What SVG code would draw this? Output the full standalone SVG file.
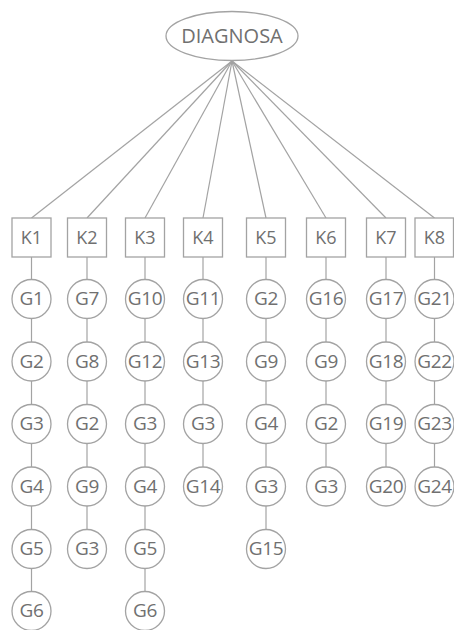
<svg xmlns="http://www.w3.org/2000/svg" width="454" height="630" viewBox="0 0 454 630">
<style>
.n{fill:#fff;stroke:#a3a3a3;stroke-width:1.3}
.t{font-family:"Open Sans","Noto Sans",sans-serif;fill:#707070;text-anchor:middle;dominant-baseline:central}
.g{font-size:19px;letter-spacing:-0.3px}
.k{font-size:18px}
.c line{stroke:#a3a3a3;stroke-width:1.2}
</style>
<rect width="454" height="630" fill="#fff"/>
<g id="connectors" class="c">
<line x1="232" y1="61" x2="31.5" y2="218"/>
<line x1="232" y1="61" x2="87" y2="218"/>
<line x1="232" y1="61" x2="145" y2="218"/>
<line x1="232" y1="61" x2="203" y2="218"/>
<line x1="232" y1="61" x2="266" y2="218"/>
<line x1="232" y1="61" x2="326" y2="218"/>
<line x1="232" y1="61" x2="386" y2="218"/>
<line x1="232" y1="61" x2="434.5" y2="218"/>
<line x1="31.5" y1="257" x2="31.5" y2="592"/>
<line x1="87" y1="257" x2="87" y2="530"/>
<line x1="145" y1="257" x2="145" y2="592"/>
<line x1="203" y1="257" x2="203" y2="467"/>
<line x1="266" y1="257" x2="266" y2="530"/>
<line x1="326" y1="257" x2="326" y2="467"/>
<line x1="386" y1="257" x2="386" y2="467"/>
<line x1="434.5" y1="257" x2="434.5" y2="467"/>
</g>
<g id="DIAGNOSA"><ellipse class="n" cx="232" cy="36" rx="66" ry="24.5"/><text class="t" x="232" y="35" font-size="20">DIAGNOSA</text></g>
<g id="K1"><rect class="n" x="12" y="218" width="39" height="39"/><text class="t k" x="31.5" y="237">K1</text></g>
<g id="K2"><rect class="n" x="67.5" y="218" width="39" height="39"/><text class="t k" x="87" y="237">K2</text></g>
<g id="K3"><rect class="n" x="125.5" y="218" width="39" height="39"/><text class="t k" x="145" y="237">K3</text></g>
<g id="K4"><rect class="n" x="183.5" y="218" width="39" height="39"/><text class="t k" x="203" y="237">K4</text></g>
<g id="K5"><rect class="n" x="246.5" y="218" width="39" height="39"/><text class="t k" x="266" y="237">K5</text></g>
<g id="K6"><rect class="n" x="306.5" y="218" width="39" height="39"/><text class="t k" x="326" y="237">K6</text></g>
<g id="K7"><rect class="n" x="366.5" y="218" width="39" height="39"/><text class="t k" x="386" y="237">K7</text></g>
<g id="K8"><rect class="n" x="415" y="218" width="38.5" height="39"/><text class="t k" x="434.5" y="237">K8</text></g>
<g id="K1-G1"><circle class="n" cx="31.5" cy="299" r="19.5"/><text class="t g" x="31.5" y="298">G1</text></g>
<g id="K1-G2"><circle class="n" cx="31.5" cy="361.5" r="19.5"/><text class="t g" x="31.5" y="360.5">G2</text></g>
<g id="K1-G3"><circle class="n" cx="31.5" cy="424" r="19.5"/><text class="t g" x="31.5" y="423">G3</text></g>
<g id="K1-G4"><circle class="n" cx="31.5" cy="486.5" r="19.5"/><text class="t g" x="31.5" y="485.5">G4</text></g>
<g id="K1-G5"><circle class="n" cx="31.5" cy="549" r="19.5"/><text class="t g" x="31.5" y="548">G5</text></g>
<g id="K1-G6"><circle class="n" cx="31.5" cy="611" r="19.5"/><text class="t g" x="31.5" y="610">G6</text></g>
<g id="K2-G7"><circle class="n" cx="87" cy="299" r="19.5"/><text class="t g" x="87" y="298">G7</text></g>
<g id="K2-G8"><circle class="n" cx="87" cy="361.5" r="19.5"/><text class="t g" x="87" y="360.5">G8</text></g>
<g id="K2-G2"><circle class="n" cx="87" cy="424" r="19.5"/><text class="t g" x="87" y="423">G2</text></g>
<g id="K2-G9"><circle class="n" cx="87" cy="486.5" r="19.5"/><text class="t g" x="87" y="485.5">G9</text></g>
<g id="K2-G3"><circle class="n" cx="87" cy="549" r="19.5"/><text class="t g" x="87" y="548">G3</text></g>
<g id="K3-G10"><circle class="n" cx="145" cy="299" r="19.5"/><text class="t g" x="145" y="298">G10</text></g>
<g id="K3-G12"><circle class="n" cx="145" cy="361.5" r="19.5"/><text class="t g" x="145" y="360.5">G12</text></g>
<g id="K3-G3"><circle class="n" cx="145" cy="424" r="19.5"/><text class="t g" x="145" y="423">G3</text></g>
<g id="K3-G4"><circle class="n" cx="145" cy="486.5" r="19.5"/><text class="t g" x="145" y="485.5">G4</text></g>
<g id="K3-G5"><circle class="n" cx="145" cy="549" r="19.5"/><text class="t g" x="145" y="548">G5</text></g>
<g id="K3-G6"><circle class="n" cx="145" cy="611" r="19.5"/><text class="t g" x="145" y="610">G6</text></g>
<g id="K4-G11"><circle class="n" cx="203" cy="299" r="19.5"/><text class="t g" x="203" y="298">G11</text></g>
<g id="K4-G13"><circle class="n" cx="203" cy="361.5" r="19.5"/><text class="t g" x="203" y="360.5">G13</text></g>
<g id="K4-G3"><circle class="n" cx="203" cy="424" r="19.5"/><text class="t g" x="203" y="423">G3</text></g>
<g id="K4-G14"><circle class="n" cx="203" cy="486.5" r="19.5"/><text class="t g" x="203" y="485.5">G14</text></g>
<g id="K5-G2"><circle class="n" cx="266" cy="299" r="19.5"/><text class="t g" x="266" y="298">G2</text></g>
<g id="K5-G9"><circle class="n" cx="266" cy="361.5" r="19.5"/><text class="t g" x="266" y="360.5">G9</text></g>
<g id="K5-G4"><circle class="n" cx="266" cy="424" r="19.5"/><text class="t g" x="266" y="423">G4</text></g>
<g id="K5-G3"><circle class="n" cx="266" cy="486.5" r="19.5"/><text class="t g" x="266" y="485.5">G3</text></g>
<g id="K5-G15"><circle class="n" cx="266" cy="549" r="19.5"/><text class="t g" x="266" y="548">G15</text></g>
<g id="K6-G16"><circle class="n" cx="326" cy="299" r="19.5"/><text class="t g" x="326" y="298">G16</text></g>
<g id="K6-G9"><circle class="n" cx="326" cy="361.5" r="19.5"/><text class="t g" x="326" y="360.5">G9</text></g>
<g id="K6-G2"><circle class="n" cx="326" cy="424" r="19.5"/><text class="t g" x="326" y="423">G2</text></g>
<g id="K6-G3"><circle class="n" cx="326" cy="486.5" r="19.5"/><text class="t g" x="326" y="485.5">G3</text></g>
<g id="K7-G17"><circle class="n" cx="386" cy="299" r="19.5"/><text class="t g" x="386" y="298">G17</text></g>
<g id="K7-G18"><circle class="n" cx="386" cy="361.5" r="19.5"/><text class="t g" x="386" y="360.5">G18</text></g>
<g id="K7-G19"><circle class="n" cx="386" cy="424" r="19.5"/><text class="t g" x="386" y="423">G19</text></g>
<g id="K7-G20"><circle class="n" cx="386" cy="486.5" r="19.5"/><text class="t g" x="386" y="485.5">G20</text></g>
<g id="K8-G21"><circle class="n" cx="434.5" cy="299" r="19.5"/><text class="t g" x="434.5" y="298">G21</text></g>
<g id="K8-G22"><circle class="n" cx="434.5" cy="361.5" r="19.5"/><text class="t g" x="434.5" y="360.5">G22</text></g>
<g id="K8-G23"><circle class="n" cx="434.5" cy="424" r="19.5"/><text class="t g" x="434.5" y="423">G23</text></g>
<g id="K8-G24"><circle class="n" cx="434.5" cy="486.5" r="19.5"/><text class="t g" x="434.5" y="485.5">G24</text></g>
</svg>
